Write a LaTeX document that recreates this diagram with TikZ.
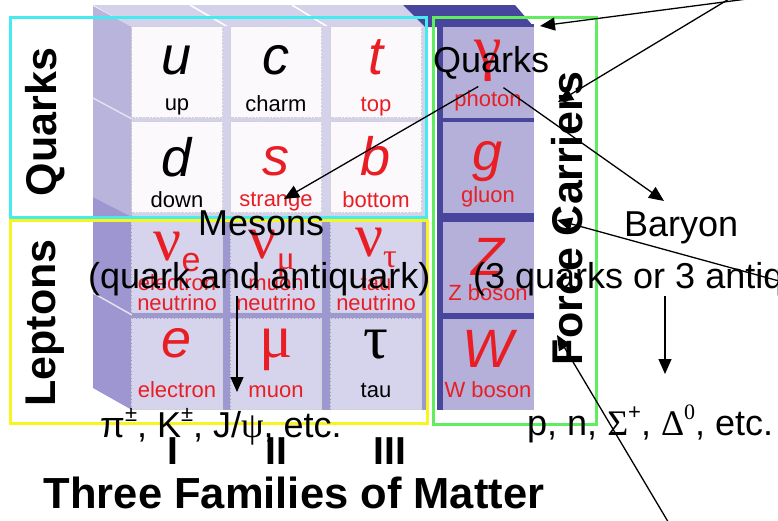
\documentclass[tikz,border=0pt]{standalone}
\usepackage{fontspec}
\setmainfont{Liberation Sans}
\newfontfamily\grkfont{Liberation Serif}
\usetikzlibrary{arrows.meta,positioning}

\definecolor{qcyan}{RGB}{70,235,240}
\definecolor{lyel}{RGB}{248,244,30}
\definecolor{fgreen}{RGB}{96,238,96}
\definecolor{pred}{RGB}{232,30,36}
\definecolor{qface}{RGB}{252,249,253}
\definecolor{qgap}{RGB}{212,210,235}
\definecolor{lface}{RGB}{214,212,236}
\definecolor{lgap}{RGB}{158,152,208}
\definecolor{sidelt}{RGB}{184,180,220}
\definecolor{sidedk}{RGB}{158,150,208}
\definecolor{fface}{RGB}{180,176,217}
\definecolor{fdark}{RGB}{72,70,156}

\newcommand\sups[1]{\raisebox{0.42em}{\fontsize{22}{22}\selectfont #1}}
\newcommand\sbs[1]{\raisebox{-11pt}{\fontsize{34}{34}\selectfont #1}}

\begin{document}
\begin{tikzpicture}[x=1pt, y=-1pt,
  qcell/.style={draw=gray!35, densely dotted, fill=qface, minimum width=91pt,
                minimum height=91pt, inner sep=0pt},
  lcell/.style={qcell, fill=lface},
  fcell/.style={fill=fface, minimum width=91pt, minimum height=91pt, inner sep=0pt},
  sym/.style={font=\fontsize{54}{54}\selectfont\itshape, anchor=base, inner sep=0pt},
  grk/.style={font=\fontsize{62}{62}\selectfont\grkfont, anchor=base, inner sep=0pt},
  nm/.style={font=\fontsize{22}{20}\selectfont, anchor=base, inner sep=0pt, align=center},
  side/.style={font=\fontsize{43}{43}\selectfont\bfseries, rotate=90, inner sep=0pt},
  fam/.style={font=\fontsize{39}{39}\selectfont\bfseries, inner sep=0pt},
  title/.style={font=\fontsize{43.5}{44}\selectfont\bfseries, anchor=base, inner sep=0pt},
  over/.style={font=\fontsize{36}{36}\selectfont, anchor=base west, inner sep=0pt},
  arr/.style={-{Triangle[length=15pt,width=13pt]}, line width=1.3pt},
  grp/.style={line width=3pt}
]
\useasboundingbox (0,0) rectangle (778,520);
\clip (0,0) rectangle (778,520);

% block faces
\fill[qgap] (93,5) -- (403,5) -- (425,27) -- (132,27) -- cycle;
\draw[white, line width=1.5pt] (190,5) -- (228,27) (292,5) -- (328,27);
\fill[sidelt] (93,6) -- (132,27) -- (132,217) -- (93,197) -- cycle;
\fill[sidedk] (93,197) -- (132,217) -- (132,410) -- (93,388) -- cycle;
\draw[white!60!sidelt, line width=1.5pt] (93,98) -- (132,119) (93,293) -- (132,315);
\fill[qgap] (132,26) rectangle (426,217);
\fill[lgap] (132,217) rectangle (426,410);
\fill[fdark] (403,5) -- (515,5) -- (534,27) -- (425,27) -- cycle;
\fill[fdark] (437,24) rectangle (534,410);

% quark cells
\node[qcell] (cu) at (177,72) {};
\node[qcell] (cc) at (276,72) {};
\node[qcell] (ct) at (376,72) {};
\node[qcell] (cd) at (177,167) {};
\node[qcell] (cs) at (276,167) {};
\node[qcell] (cb) at (376,167) {};
% lepton cells
\node[lcell] (cve) at (177,267) {};
\node[lcell] (cvm) at (276,267) {};
\node[lcell] (cvt) at (376,267) {};
\node[lcell] (ce) at (177,364) {};
\node[lcell] (cmu) at (276,364) {};
\node[lcell] (ctau) at (376,364) {};
% force cells
\node[fcell] (cgam) at (488,72) {};
\node[fcell] (cg) at (488,167) {};
\node[fcell] (cz) at (488,267) {};
\node[fcell] (cw) at (488,364) {};

% symbols and names
\node[sym] (su) at (177,74) {u};
\node[sym] (sc) at (276,74) {c};
\node[sym, text=pred] (st) at (376,74) {t};
\node[nm] (nu) at (177,110) {up};
\node[nm] (nc) at (276,111) {charm};
\node[nm, text=pred] (nt) at (376,111) {top};
\node[sym] (sd) at (177,176) {d};
\node[sym, text=pred] (ss) at (276,175) {s};
\node[sym, text=pred] (sb) at (376,175) {b};
\node[nm] (nd) at (177,207) {down};
\node[nm, text=pred] (ns) at (276,206) {strange};
\node[nm, text=pred] (nb) at (376,207) {bottom};
\node[grk, text=pred] (sve) at (177,260) {ν\sbs{\rmfamily e}};
\node[grk, text=pred] (svm) at (272,258) {ν\sbs{μ}};
\node[grk, text=pred] (svt) at (376,256) {ν\sbs{τ}};
\node[nm, text=pred] (nve) at (177,310) {electron\\neutrino};
\node[nm, text=pred] (nvm) at (276,310) {muon\\neutrino};
\node[nm, text=pred] (nvt) at (376,310) {tau\\neutrino};
\node[sym, text=pred] (se) at (177,357) {e};
\node[grk, text=pred] (smu) at (276,357) {μ};
\node[grk] (stau) at (376,358) {τ};
\node[nm, text=pred] (ne) at (177,397) {electron};
\node[nm, text=pred] (nmu) at (276,397) {muon};
\node[nm] (ntau) at (376,397) {tau};
\node[grk, text=pred] (sgam) at (488,68) {γ};
\node[nm, text=pred] (ngam) at (488,106) {photon};
\node[sym, text=pred] (sg) at (488,170) {g};
\node[nm, text=pred] (ng) at (488,202) {gluon};
\node[sym, text=pred] (sz) at (488,275) {Z};
\node[nm, text=pred] (nz) at (488,300) {Z boson};
\node[sym, text=pred] (sw) at (488,367) {W};
\node[nm, text=pred] (nw) at (488,397) {W boson};

% group frames
\draw[grp, qcyan] (10,17) rectangle (426,217);
\draw[grp, lyel] (10,220) rectangle (427,423);
\draw[grp, fgreen] (433,17) rectangle (596,424);

% chart labels
\node[side] (qlab) at (45,122) {Quarks};
\node[side] (llab) at (45,323) {Leptons};
\node[side] (fclab) at (567,218) {Force Carriers};
\node[fam] (f1) at (173,451) {I};
\node[fam] (f2) at (276,451) {II};
\node[fam] (f3) at (390,451) {III};
\node[title] (tfm) at (294,508) {Three Families of Matter};

% overlay texts
\node[over] (qk)  at (433,72)  {Quarks};
\node[over] (mes) at (198,235) {Mesons};
\node[over] (qa)  at (88,288)  {(quark and antiquark)};
\node[over] (mx)  at (100,437) {π\sups{±}, K\sups{±}, J/{\grkfont ψ}, etc.};
\node[over] (bar) at (624,236) {Baryon};
\node[over] (tq)  at (473,288) {(3 quarks or 3 antiquarks)};
\node[over] (bx)  at (527,435) {p, n, {\grkfont Σ}\sups{+}, {\grkfont Δ\sups{0}}, etc.};

% arrow ends
\coordinate (glA)  at (747,-1);
\coordinate (glB)  at (729,-1);
\coordinate (tipA) at (540,26);
\coordinate (tipB) at (558,102);
\coordinate (rt)   at (790,284);
\coordinate (tipC) at (557,220);
\coordinate (bt)   at (670,525);
\coordinate (tipF) at (557,335);
\coordinate (mesT) at (284,199);
\coordinate (barT) at (664,201);
\coordinate (piT)  at (237,392);
\coordinate (pnT)  at (665,374);

\draw[arr] (glA) -- (tipA);
\draw[arr] (glB) -- (tipB);
\draw[arr, shorten <=15pt] (qk.south) -- (mesT);
\draw[arr, shorten <=15pt] (qk.south) -- (barT);
\draw[arr] (rt) -- (tipC);
\draw[arr] (qa.south -| piT) -- (piT);
\draw[arr] (tq.south -| pnT) -- (pnT);
\draw[arr] (bt) -- (tipF);

\end{tikzpicture}
\end{document}
